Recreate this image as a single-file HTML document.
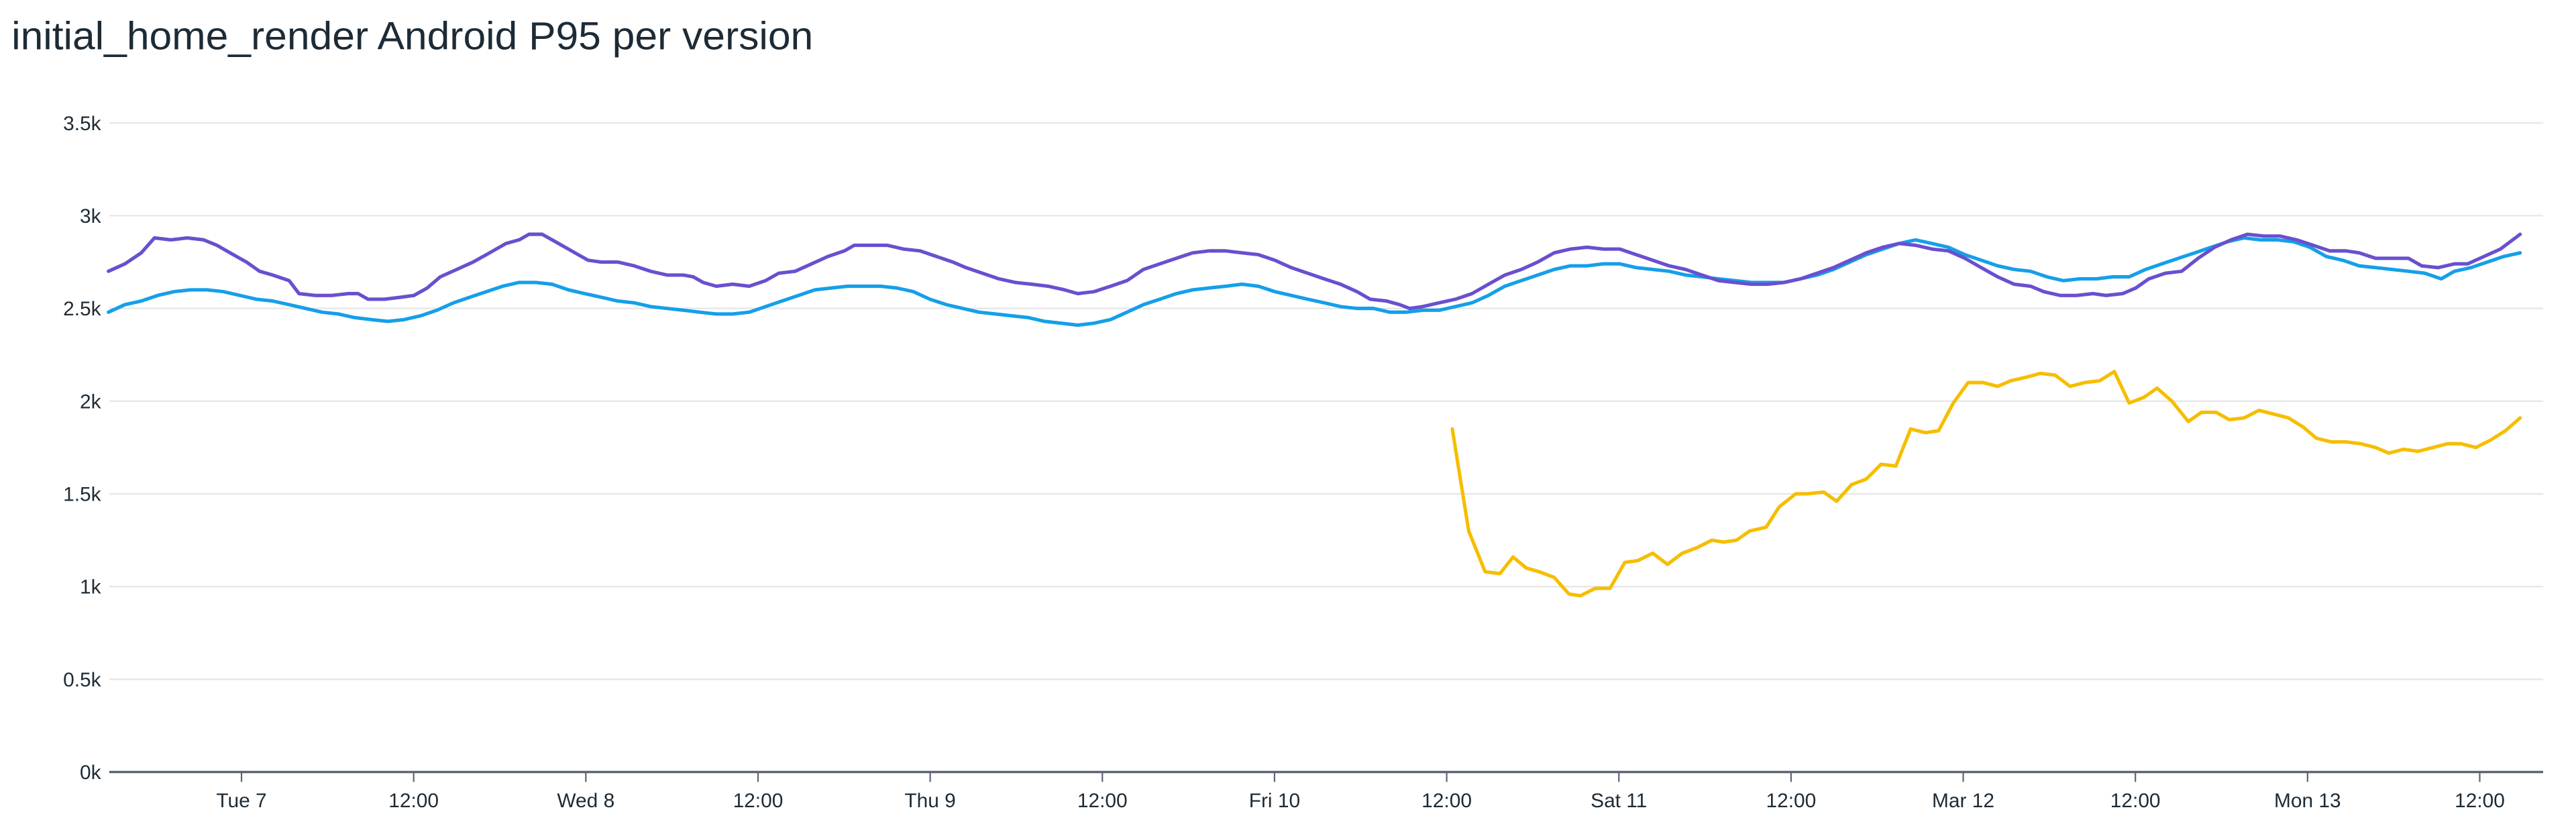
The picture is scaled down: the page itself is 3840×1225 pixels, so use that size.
<!DOCTYPE html>
<html><head><meta charset="utf-8"><style>
html,body{margin:0;padding:0;background:#fff;}
svg{display:block;}
text{font-family:"Liberation Sans",sans-serif;fill:#1d2b36;}
</style></head><body>
<svg id="s" width="3840" height="1225" viewBox="0 0 1568 500" preserveAspectRatio="none" xmlns="http://www.w3.org/2000/svg">
<text x="7" y="30" font-size="24" textLength="488" lengthAdjust="spacingAndGlyphs">initial_home_render Android P95 per version</text>
<g id="grid"></g>
<g id="lines" fill="none" stroke-width="2.1" stroke-linejoin="round" stroke-linecap="round"></g>
</svg>
<script>
var NS="http://www.w3.org/2000/svg",svg=document.getElementById('s');
var y0=469.6,k=112.8,x0=66.5,x1=1548;
function Y(v){return y0-v*k;}
var g=document.getElementById('grid');
function el(t,a,p,txt){var e=document.createElementNS(NS,t);for(var i in a)e.setAttribute(i,a[i]);if(txt!==undefined)e.textContent=txt;(p||g).appendChild(e);return e;}
var labs=['0k','0.5k','1k','1.5k','2k','2.5k','3k','3.5k'];
for(var i=0;i<8;i++){var y=Y(i*0.5);
 if(i>0)el('line',{x1:x0,x2:x1,y1:y,y2:y,stroke:'#e6e6e6','stroke-width':0.9});
 el('text',{x:61.5,y:y+4.3,'font-size':'12.2','text-anchor':'end'},g,labs[i]);}
el('line',{x1:x0,x2:x1,y1:y0,y2:y0,stroke:'#5b6577','stroke-width':1.4});
var xl=['Tue 7','12:00','Wed 8','12:00','Thu 9','12:00','Fri 10','12:00','Sat 11','12:00','Mar 12','12:00','Mon 13','12:00'];
for(var i=0;i<xl.length;i++){var x=147+i*104.8;
 el('line',{x1:x,x2:x,y1:y0,y2:y0+6,stroke:'#5b6577','stroke-width':0.9});
 el('text',{x:x,y:491,'font-size':'12.2','text-anchor':'middle'},g,xl[i]);}
var P=[66,2.70,76,2.74,86,2.80,94,2.88,104,2.87,114,2.88,124,2.87,132,2.84,142,2.79,150,2.75,158,2.70,166,2.68,176,2.65,182,2.58,192,2.57,202,2.57,212,2.58,218,2.58,224,2.55,234,2.55,244,2.56,252,2.57,260,2.61,268,2.67,278,2.71,288,2.75,298,2.80,308,2.85,316,2.87,322,2.90,330,2.90,340,2.85,350,2.80,358,2.76,366,2.75,376,2.75,386,2.73,396,2.70,406,2.68,416,2.68,422,2.67,428,2.64,436,2.62,446,2.63,456,2.62,466,2.65,474,2.69,484,2.70,494,2.74,504,2.78,514,2.81,520,2.84,530,2.84,540,2.84,550,2.82,560,2.81,570,2.78,580,2.75,588,2.72,598,2.69,608,2.66,618,2.64,628,2.63,638,2.62,648,2.60,656,2.58,666,2.59,676,2.62,686,2.65,696,2.71,706,2.74,716,2.77,726,2.80,736,2.81,746,2.81,756,2.80,766,2.79,776,2.76,786,2.72,796,2.69,806,2.66,816,2.63,826,2.59,834,2.55,844,2.54,852,2.52,858,2.50,866,2.51,876,2.53,886,2.55,896,2.58,906,2.63,916,2.68,926,2.71,936,2.75,946,2.80,956,2.82,966,2.83,976,2.82,986,2.82,996,2.79,1006,2.76,1016,2.73,1026,2.71,1036,2.68,1046,2.65,1056,2.64,1066,2.63,1076,2.63,1086,2.64,1096,2.66,1106,2.69,1116,2.72,1126,2.76,1136,2.80,1146,2.83,1156,2.85,1166,2.84,1176,2.82,1186,2.81,1196,2.77,1206,2.72,1216,2.67,1226,2.63,1236,2.62,1244,2.59,1254,2.57,1264,2.57,1274,2.58,1282,2.57,1292,2.58,1300,2.61,1308,2.66,1318,2.69,1328,2.70,1338,2.77,1348,2.83,1358,2.87,1368,2.90,1378,2.89,1388,2.89,1398,2.87,1408,2.84,1418,2.81,1428,2.81,1436,2.80,1446,2.77,1456,2.77,1466,2.77,1474,2.73,1484,2.72,1494,2.74,1502,2.74,1512,2.78,1522,2.82,1534,2.90];
var B=[66,2.48,76,2.52,86,2.54,96,2.57,106,2.59,116,2.60,126,2.60,136,2.59,146,2.57,156,2.55,166,2.54,176,2.52,186,2.50,196,2.48,206,2.47,216,2.45,226,2.44,236,2.43,246,2.44,256,2.46,266,2.49,276,2.53,286,2.56,296,2.59,306,2.62,316,2.64,326,2.64,336,2.63,346,2.60,356,2.58,366,2.56,376,2.54,386,2.53,396,2.51,406,2.50,416,2.49,426,2.48,436,2.47,446,2.47,456,2.48,466,2.51,476,2.54,486,2.57,496,2.60,506,2.61,516,2.62,526,2.62,536,2.62,546,2.61,556,2.59,566,2.55,576,2.52,586,2.50,596,2.48,606,2.47,616,2.46,626,2.45,636,2.43,646,2.42,656,2.41,666,2.42,676,2.44,686,2.48,696,2.52,706,2.55,716,2.58,726,2.60,736,2.61,746,2.62,756,2.63,766,2.62,776,2.59,786,2.57,796,2.55,806,2.53,816,2.51,826,2.50,836,2.50,846,2.48,856,2.48,866,2.49,876,2.49,886,2.51,896,2.53,906,2.57,916,2.62,926,2.65,936,2.68,946,2.71,956,2.73,966,2.73,976,2.74,986,2.74,996,2.72,1006,2.71,1016,2.70,1026,2.68,1036,2.67,1046,2.66,1056,2.65,1066,2.64,1076,2.64,1086,2.64,1096,2.66,1106,2.68,1116,2.71,1126,2.75,1136,2.79,1146,2.82,1156,2.85,1166,2.87,1176,2.85,1186,2.83,1196,2.79,1206,2.76,1216,2.73,1226,2.71,1236,2.70,1246,2.67,1256,2.65,1266,2.66,1276,2.66,1286,2.67,1296,2.67,1306,2.71,1316,2.74,1326,2.77,1336,2.80,1346,2.83,1356,2.86,1366,2.88,1376,2.87,1386,2.87,1396,2.86,1406,2.83,1416,2.78,1426,2.76,1436,2.73,1446,2.72,1456,2.71,1466,2.70,1476,2.69,1486,2.66,1494,2.70,1504,2.72,1514,2.75,1524,2.78,1534,2.80];
var Yl=[884,1.85,894,1.30,904,1.08,913,1.07,921,1.16,929,1.10,937,1.08,946,1.05,955,0.96,962,0.95,971,0.99,980,0.99,989,1.13,997,1.14,1006,1.18,1015,1.12,1024,1.18,1033,1.21,1042,1.25,1049,1.24,1057,1.25,1065,1.30,1075,1.32,1083,1.43,1093,1.50,1100,1.50,1110,1.51,1118,1.46,1127,1.55,1136,1.58,1145,1.66,1154,1.65,1163,1.85,1172,1.83,1180,1.84,1189,1.99,1198,2.10,1207,2.10,1216,2.08,1224,2.11,1234,2.13,1242,2.15,1251,2.14,1260,2.08,1269,2.10,1278,2.11,1287,2.16,1296,1.99,1305,2.02,1313,2.07,1322,2.00,1332,1.89,1340,1.94,1349,1.94,1357,1.90,1366,1.91,1375,1.95,1384,1.93,1393,1.91,1402,1.86,1410,1.80,1419,1.78,1428,1.78,1437,1.77,1446,1.75,1454,1.72,1463,1.74,1472,1.73,1481,1.75,1490,1.77,1498,1.77,1507,1.75,1516,1.79,1525,1.84,1534,1.91];
var L=document.getElementById('lines');
function line(a,c){var p=[];for(var i=0;i<a.length;i+=2)p.push(a[i]+','+Y(a[i+1]).toFixed(1));el('polyline',{points:p.join(' '),stroke:c},L);}
line(B,'#159fe9');line(P,'#6a4fcf');line(Yl,'#f6be00');
</script>
</body></html>
